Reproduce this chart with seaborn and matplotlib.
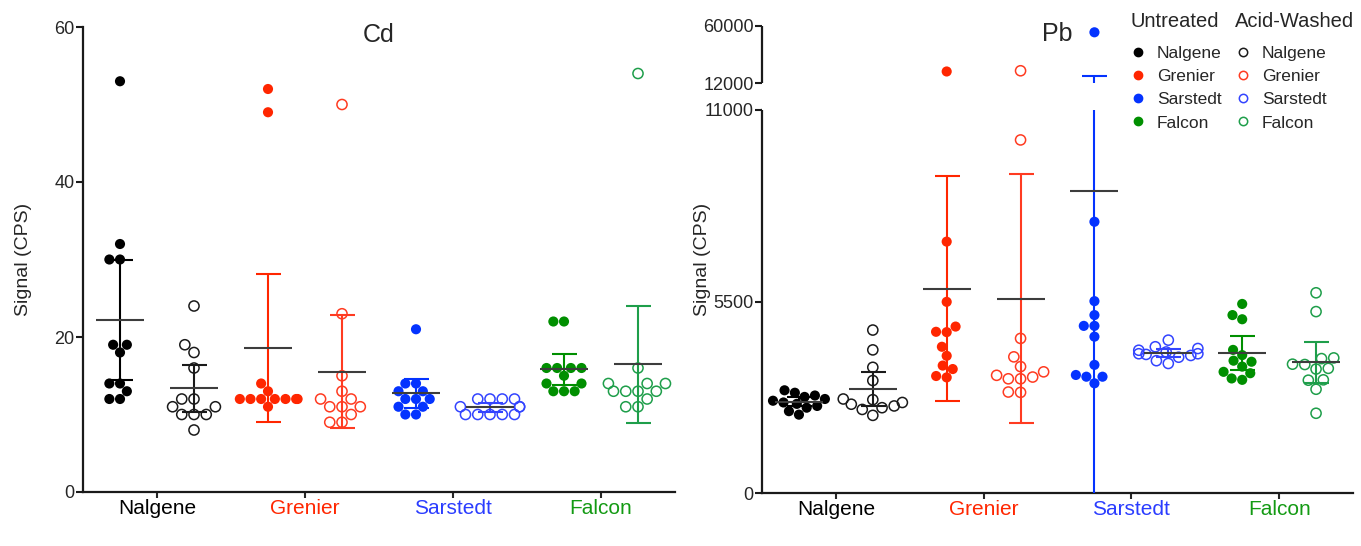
import numpy as np
import pandas as pd
import seaborn as sns
import matplotlib.pyplot as plt
from matplotlib.lines import Line2D


brands = ['Nalgene', 'Grenier', 'Sarstedt', 'Falcon']
treatments = ['Untreated', 'Acid-Washed']

# Cd signal (CPS), one list per brand
cd_untreated = [
    [53, 32, 30, 30, 19, 19, 18, 14, 14, 13, 12, 12],
    [52, 49, 14, 13, 12, 12, 12, 12, 12, 12, 12, 11],
    [21, 14, 14, 13, 13, 12, 12, 12, 11, 11, 10, 10],
    [22, 22, 16, 16, 16, 16, 15, 14, 14, 13, 13, 13],
]
cd_acid = [
    [24, 19, 18, 16, 12, 12, 11, 11, 10, 10, 10, 8],
    [50, 23, 15, 13, 12, 12, 11, 11, 11, 10, 9, 9],
    [12, 12, 12, 12, 11, 11, 11, 10, 10, 10, 10, 10],
    [54, 16, 14, 14, 14, 13, 13, 13, 13, 12, 11, 11],
]

# Pb signal (CPS)
pb_untreated = [
    [2950, 2880, 2800, 2760, 2700, 2650, 2600, 2560, 2500, 2450, 2350, 2250],
    [21700, 7220, 5490, 4780, 4630, 4620, 4200, 3940, 3660, 3560, 3360, 3320],
    [54700, 7790, 5510, 5110, 4800, 4800, 4490, 3680, 3390, 3340, 3340, 3150],
    [5430, 5110, 4990, 4110, 3960, 3800, 3770, 3630, 3480, 3440, 3290, 3250],
]
pb_acid = [
    [4680, 4110, 3610, 3230, 2700, 2680, 2600, 2550, 2500, 2450, 2400, 2230],
    [22300, 10140, 4440, 3910, 3630, 3480, 3380, 3330, 3280, 3280, 2900, 2890],
    [4390, 4200, 4150, 4100, 4050, 4000, 4000, 3980, 3950, 3900, 3800, 3720],
    [5750, 5210, 3880, 3860, 3700, 3690, 3580, 3560, 3250, 3240, 2980, 2290],
]

cd_ticks = [0, 20, 40, 60]
pb_ticks = [0, 5500, 11000, 12000, 60000]

untreated_colors = ['#000000', '#ff2600', '#0433ff', '#008f00']
acid_colors = ['#1a1a1a', '#ff3b21', '#3344ff', '#1e9e4a']
label_colors = ['#000000', '#ff2600', '#2a3cff', '#139a13']
MEAN_COLOR = '#3d3d3d'
AXIS_COLOR = '#1a1a1a'
T95 = 2.201  # t quantile, 11 df -> 95% CI of the mean

# broken Pb axis: value -> position
PB_VALS = [0, 11000, 12000, 60000]
PB_POS = [0, 383, 410, 467]


def pb_forward(v):
    v = np.asarray(v, dtype=float)
    out = np.interp(v, PB_VALS, PB_POS)
    out = np.where(v < 0, v * PB_POS[1] / PB_VALS[1], out)
    top = (PB_POS[3] - PB_POS[2]) / (PB_VALS[3] - PB_VALS[2])
    out = np.where(v > PB_VALS[3], PB_POS[3] + (v - PB_VALS[3]) * top, out)
    return out


def pb_inverse(p):
    p = np.asarray(p, dtype=float)
    out = np.interp(p, PB_POS, PB_VALS)
    out = np.where(p < 0, p * PB_VALS[1] / PB_POS[1], out)
    top = (PB_VALS[3] - PB_VALS[2]) / (PB_POS[3] - PB_POS[2])
    out = np.where(p > PB_POS[3], PB_VALS[3] + (p - PB_POS[3]) * top, out)
    return out


rows = []
for metal, unt, acid in [('Cd', cd_untreated, cd_acid), ('Pb', pb_untreated, pb_acid)]:
    for brand, u_vals, a_vals in zip(brands, unt, acid):
        for treat, vals in [('Untreated', u_vals), ('Acid-Washed', a_vals)]:
            for v in vals:
                rows.append({'metal': metal, 'brand': brand, 'treatment': treat,
                             'col': brand + ' ' + treat, 'value': v})
df = pd.DataFrame(rows)

col_order = [b + ' ' + t for b in brands for t in treatments]
palette = {}
for b, cu, ca in zip(brands, untreated_colors, acid_colors):
    palette[b + ' Untreated'] = cu
    palette[b + ' Acid-Washed'] = ca


def draw_panel(ax, metal, yticks, title, broken=False):
    sub = df[df['metal'] == metal]
    if broken:
        ax.set_yscale('function', functions=(pb_forward, pb_inverse))

    for treat in treatments:
        n0 = len(ax.collections)
        sns.swarmplot(data=sub[sub['treatment'] == treat], x='col', y='value',
                      order=col_order, hue='col', palette=palette, size=7.3,
                      legend=False, warn_thresh=1, ax=ax)
        if treat == 'Acid-Washed':
            for coll in ax.collections[n0:]:
                fc = coll.get_facecolors()
                if len(fc):
                    coll.set_edgecolors(fc)
                    coll.set_facecolors('none')
                    coll.set_linewidth(1.1)

    stats = sub.groupby('col')['value'].agg(['mean', 'sem']).reindex(col_order)
    for i, col in enumerate(col_order):
        ax.errorbar(i, stats.loc[col, 'mean'], yerr=T95 * stats.loc[col, 'sem'],
                    fmt='none', ecolor=palette[col], elinewidth=1.5,
                    capsize=9, capthick=1.5, zorder=3)
    ax.plot(np.arange(len(col_order)), stats['mean'].values, ls='none',
            marker='_', markersize=34.5, markeredgewidth=1.5,
            color=MEAN_COLOR, zorder=4)

    ax.set_xlim(-0.5, 7.5)
    ax.set_ylim(yticks[0], yticks[-1])
    ax.set_yticks(yticks)
    ax.set_yticklabels([str(t) for t in yticks])
    ax.set_xticks([0.5, 2.5, 4.5, 6.5])
    ax.set_xticklabels(brands)
    for lab, tk, c in zip(ax.get_xticklabels(), ax.xaxis.get_major_ticks(), label_colors):
        lab.set_color(c)
        tk.tick1line.set_color(c)
    ax.set_xlabel('')
    ax.set_ylabel('Signal (CPS)', fontsize=14)
    ax.yaxis.set_label_coords(-0.086, 0.5)

    sns.despine(ax=ax)
    for s in ['left', 'bottom']:
        ax.spines[s].set_linewidth(1.6)
        ax.spines[s].set_color(AXIS_COLOR)
    ax.tick_params(axis='y', length=5, width=1.5, labelsize=13, pad=1, color=AXIS_COLOR)
    ax.tick_params(axis='x', length=4, width=1.5, labelsize=15, pad=1)

    if broken:
        ax.spines['left'].set_bounds(0, 11000)
        ax.plot([0, 0], [12000, 60000], transform=ax.get_yaxis_transform(),
                color=AXIS_COLOR, lw=1.6, clip_on=False, solid_capstyle='butt')
        ax.axhspan(11000, 12000, color='white', zorder=5, lw=0)

    ax.text(0.5, 0.967, title, transform=ax.transAxes, ha='center',
            va='baseline', fontsize=18)


sns.set_style('ticks')
plt.rcParams['font.family'] = ['Liberation Sans', 'DejaVu Sans']

fig = plt.figure(figsize=(13.61, 5.46), dpi=100)
ax_cd = fig.add_axes([83 / 1361, 1 - 492 / 546, 592 / 1361, 465 / 546])
ax_pb = fig.add_axes([762 / 1361, 1 - 493 / 546, 591 / 1361, 467 / 546])

draw_panel(ax_cd, 'Cd', cd_ticks, 'Cd')
draw_panel(ax_pb, 'Pb', pb_ticks, 'Pb', broken=True)

# two-column legend: headers as text, entries as two legends
handles_u = [Line2D([], [], ls='none', marker='o', markersize=6, color=c) for c in untreated_colors]
handles_a = [Line2D([], [], ls='none', marker='o', markersize=6, markeredgewidth=1.1,
                    color=c, markerfacecolor='none') for c in acid_colors]
leg_kw = dict(loc='upper left', frameon=False, fontsize=12.5,
              handlelength=1.0, handletextpad=0.6,
              labelspacing=0.46, borderpad=0, borderaxespad=0)
fig.legend(handles_u, brands, bbox_to_anchor=(1129 / 1361, 1 - 46 / 546), **leg_kw)
fig.legend(handles_a, brands, bbox_to_anchor=(1234 / 1361, 1 - 46 / 546), **leg_kw)
fig.text(1130 / 1361, 1 - 27 / 546, 'Untreated', ha='left', va='baseline', fontsize=14.5)
fig.text(1235 / 1361, 1 - 27 / 546, 'Acid-Washed', ha='left', va='baseline', fontsize=14.5)

fig.savefig('out.png', dpi=100)
